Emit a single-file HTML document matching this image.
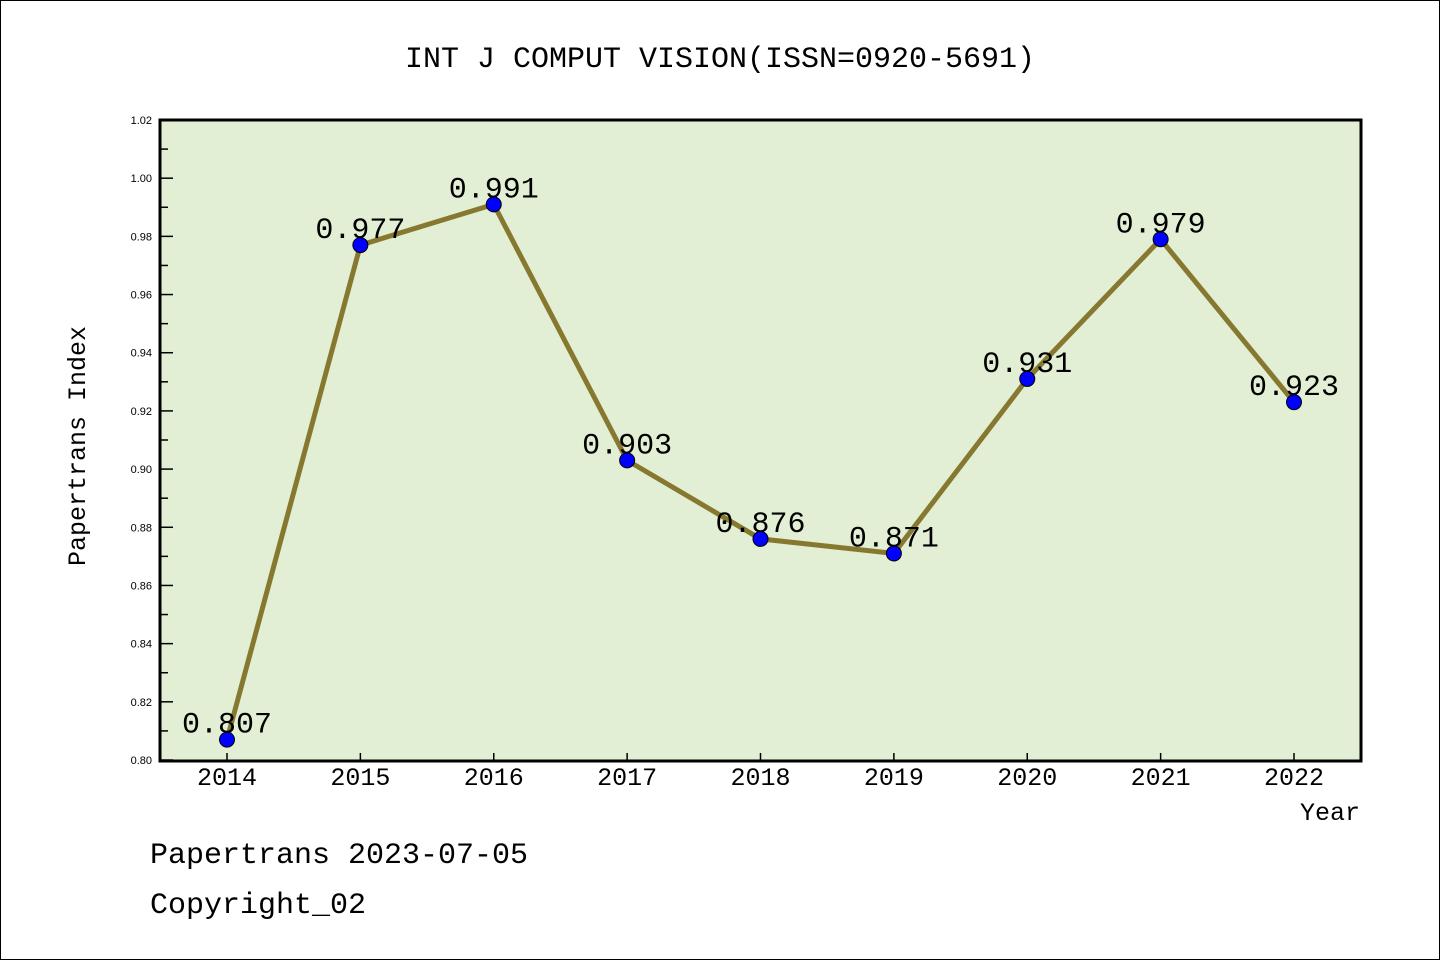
<!DOCTYPE html>
<html><head><meta charset="utf-8"><style>
html,body{margin:0;padding:0;background:#fff}
svg{display:block}
text{font-family:"Liberation Mono",monospace;fill:#000}
</style></head><body>
<svg id="chart" width="1440" height="960" xmlns="http://www.w3.org/2000/svg">
<rect x="0.5" y="0.5" width="1439" height="959" fill="#fff" stroke="#000" stroke-width="1"/>
<text x="720" y="67" font-size="30" text-anchor="middle">INT J COMPUT VISION(ISSN=0920-5691)</text>
<rect x="160" y="120" width="1201" height="641" fill="#e2efd4"/>
<g id="yticks"></g>
<g id="xticks"></g>
<g id="series"></g>
<rect x="160" y="120" width="1201" height="641" fill="none" stroke="#000" stroke-width="3"/>
<text transform="translate(85,446) rotate(-90)" font-size="25" text-anchor="middle">Papertrans Index</text>
<text x="1360" y="820" font-size="25" text-anchor="end">Year</text>
<text x="150" y="863" font-size="30">Papertrans 2023-07-05</text>
<text x="150" y="913" font-size="30">Copyright_02</text>
</svg>
<script>
const years = ['2014','2015','2016','2017','2018','2019','2020','2021','2022'];
const values = [0.807,0.977,0.991,0.903,0.876,0.871,0.931,0.979,0.923];
const valueLabels = ['0.807','0.977','0.991','0.903','0.876','0.871','0.931','0.979','0.923'];
const yTickLabels = ['0.80','0.82','0.84','0.86','0.88','0.90','0.92','0.94','0.96','0.98','1.00','1.02'];
const yMin = 0.80, yMax = 1.02;
const NS = 'http://www.w3.org/2000/svg';
function yScale(v){ return 760 - (v - yMin) / (yMax - yMin) * 640; }
function xScale(i){ return 227 + i * (1294 - 227) / (years.length - 1); }
function mk(tag, attrs, parent){ const e = document.createElementNS(NS, tag); for (const k in attrs) e.setAttribute(k, attrs[k]); parent.appendChild(e); return e; }
const yt = document.getElementById('yticks');
for (let i = 0; i < yTickLabels.length; i++) {
  const v = parseFloat(yTickLabels[i]);
  const y = yScale(v);
  const t = mk('line', {x1:160, x2:173, y1:y, y2:y, stroke:'#000', 'stroke-width':1.5}, yt);
  
  
  const l = mk('text', {x:152, y:y + 4, 'font-size':11, 'text-anchor':'end', style:'font-family:"Liberation Sans",sans-serif'}, yt);
  l.textContent = yTickLabels[i];
  
  
  if (i < yTickLabels.length - 1) {
    const ym = yScale(v + 0.01);
    const m = mk('line', {x1:160, x2:168, y1:ym, y2:ym, stroke:'#000', 'stroke-width':1.5}, yt);
    
    
  }
}
const xt = document.getElementById('xticks');
years.forEach((yr, i) => {
  const x = xScale(i);
  const t = mk('line', {x1:x, x2:x, y1:753, y2:761, stroke:'#000', 'stroke-width':1.5}, xt);
  
  
  const l = mk('text', {x:x, y:785, 'font-size':25, 'text-anchor':'middle'}, xt);
  l.textContent = yr;
  
  
});
const s = document.getElementById('series');
const pts = values.map((v, i) => xScale(i) + ',' + yScale(v)).join(' ');
const line = mk('polyline', {points:pts, fill:'none', stroke:'#877830', 'stroke-width':5, 'stroke-linejoin':'round'}, s);


values.forEach((v, i) => {
  const c = mk('circle', {cx:xScale(i), cy:yScale(v), r:7.5, fill:'#0000ff', stroke:'#000', 'stroke-width':1}, s);
  
  
  const l = mk('text', {x:xScale(i), y:yScale(v) - 7, 'font-size':30, 'text-anchor':'middle'}, s);
  l.textContent = valueLabels[i];
  
  
});
</script>
</body></html>
